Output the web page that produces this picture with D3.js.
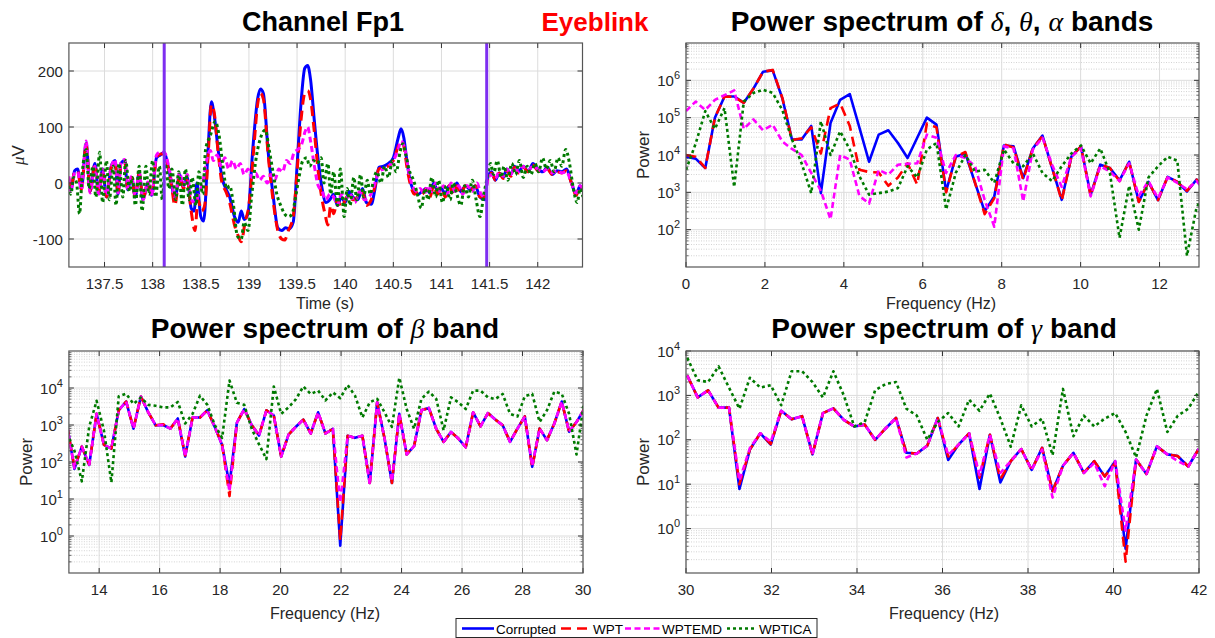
<!DOCTYPE html>
<html>
<head>
<meta charset="utf-8">
<script src="https://cdn.jsdelivr.net/npm/d3@7"></script>
<style>
body{margin:0;background:#fff}
svg{font-family:"Liberation Sans",Arial,sans-serif}
</style>
</head>
<body>
<svg id="chart" width="1215" height="638"></svg>
<script>
// ---- data ----
// time course of channel Fp1, [time (s), amplitude (uV)] at turning points
const fp1Corrupted = [[137.13,5],[137.15,-12],[137.19,22],[137.22,25],[137.26,-10],[137.31,72],[137.35,-15],[137.40,35],[137.44,-18],[137.48,25],[137.52,-25],[137.57,30],[137.61,40],[137.64,-20],[137.67,35],[137.71,40],[137.74,-12],[137.78,10],[137.82,-25],[137.86,18],[137.90,-30],[137.95,0],[137.99,-22],[138.04,45],[138.08,50],[138.12,55],[138.16,30],[138.20,-5],[138.23,-30],[138.28,15],[138.32,-5],[138.36,10],[138.40,-45],[138.43,-50],[138.46,0],[138.50,-60],[138.53,-68],[138.57,40],[138.61,145],[138.64,120],[138.68,60],[138.72,10],[138.76,-10],[138.80,-25],[138.85,-60],[138.89,-70],[138.92,-50],[138.95,-65],[138.99,-55],[139.04,60],[139.09,150],[139.12,168],[139.15,160],[139.20,55],[139.25,-20],[139.30,-80],[139.34,-85],[139.38,-80],[139.42,-82],[139.46,-70],[139.50,30],[139.54,140],[139.58,205],[139.61,210],[139.64,185],[139.68,110],[139.72,40],[139.76,-10],[139.80,-35],[139.84,-30],[139.88,-20],[139.92,-40],[139.96,-25],[140.00,-35],[140.04,-15],[140.08,-25],[140.13,-30],[140.18,-10],[140.22,-35],[140.27,-38],[140.31,-10],[140.35,28],[140.40,30],[140.45,35],[140.50,45],[140.55,80],[140.58,97],[140.61,80],[140.64,40],[140.68,0],[140.72,-15],[140.76,-20],[140.80,-15],[140.84,-10],[140.88,-18],[140.92,0],[140.96,-15],[141.00,-10],[141.04,-20],[141.08,-5],[141.12,-15],[141.16,0],[141.20,-15],[141.25,-5],[141.30,-12],[141.35,-5],[141.40,-25],[141.45,-30],[141.48,10],[141.52,20],[141.56,5],[141.60,18],[141.64,10],[141.68,25],[141.72,15],[141.76,30],[141.80,20],[141.85,30],[141.90,20],[141.95,35],[142.00,25],[142.05,20],[142.10,28],[142.15,15],[142.20,22],[142.25,20],[142.30,25],[142.35,0],[142.40,-20],[142.44,-5],[142.47,-15]];
const fp1WPT = [[137.13,8],[137.15,-10],[137.19,20],[137.22,22],[137.26,-12],[137.31,70],[137.35,-15],[137.40,33],[137.44,-15],[137.48,22],[137.52,-25],[137.57,28],[137.61,38],[137.64,-20],[137.67,33],[137.71,38],[137.74,-10],[137.78,10],[137.82,-25],[137.86,18],[137.90,-28],[137.95,0],[137.99,-20],[138.04,45],[138.08,52],[138.12,52],[138.16,28],[138.20,-10],[138.23,-40],[138.28,12],[138.32,-10],[138.36,5],[138.40,-50],[138.44,-85],[138.47,-30],[138.51,-50],[138.54,-40],[138.58,60],[138.61,140],[138.64,125],[138.68,55],[138.72,0],[138.76,-15],[138.80,-35],[138.85,-75],[138.89,-95],[138.92,-105],[138.96,-70],[139.00,-40],[139.05,60],[139.09,140],[139.12,160],[139.15,150],[139.20,50],[139.25,-30],[139.30,-85],[139.34,-100],[139.37,-102],[139.41,-85],[139.46,-60],[139.50,20],[139.54,110],[139.58,160],[139.61,165],[139.64,150],[139.68,90],[139.72,20],[139.76,-30],[139.79,-55],[139.82,-75],[139.85,-40],[139.88,-55],[139.92,-30],[139.96,-45],[140.00,-30],[140.04,-20],[140.08,-30],[140.13,-25],[140.18,-15],[140.22,-40],[140.27,-30],[140.31,-5],[140.35,25],[140.40,28],[140.45,30],[140.50,40],[140.55,65],[140.58,75],[140.61,65],[140.64,30],[140.68,-5],[140.72,-20],[140.76,-15],[140.80,-20],[140.84,-10],[140.88,-25],[140.92,-5],[140.96,-20],[141.00,-10],[141.04,-25],[141.08,-5],[141.12,-20],[141.16,-5],[141.20,-20],[141.25,-5],[141.30,-15],[141.35,-5],[141.40,-25],[141.45,-25],[141.48,10],[141.52,18],[141.56,5],[141.60,18],[141.64,8],[141.68,22],[141.72,12],[141.76,28],[141.80,18],[141.85,28],[141.90,20],[141.95,32],[142.00,22],[142.05,20],[142.10,25],[142.15,15],[142.20,20],[142.25,18],[142.30,22],[142.35,0],[142.40,-22],[142.44,-5],[142.47,-12]];
const fp1WPTEMD = [[137.13,12],[137.15,-15],[137.19,18],[137.22,20],[137.26,-12],[137.31,75],[137.35,-18],[137.40,30],[137.44,-20],[137.48,25],[137.52,-22],[137.57,28],[137.61,42],[137.64,-18],[137.67,35],[137.71,42],[137.74,-10],[137.78,12],[137.82,-22],[137.86,20],[137.90,-30],[137.95,2],[137.99,-25],[138.04,50],[138.08,55],[138.12,55],[138.16,35],[138.20,0],[138.23,-25],[138.28,18],[138.32,-5],[138.36,15],[138.40,-30],[138.44,-35],[138.48,-20],[138.52,0],[138.56,40],[138.60,58],[138.63,40],[138.67,50],[138.71,30],[138.75,45],[138.79,25],[138.83,40],[138.87,25],[138.91,35],[138.95,15],[138.99,25],[139.03,10],[139.07,18],[139.11,5],[139.15,12],[139.19,0],[139.23,15],[139.27,5],[139.31,25],[139.35,20],[139.39,40],[139.43,35],[139.47,55],[139.51,60],[139.55,70],[139.58,90],[139.61,100],[139.64,75],[139.68,30],[139.72,-5],[139.76,-15],[139.80,-30],[139.84,-20],[139.88,-25],[139.92,-40],[139.96,-20],[140.00,-30],[140.05,-20],[140.10,-35],[140.15,-15],[140.20,-30],[140.25,-25],[140.30,-5],[140.35,20],[140.40,25],[140.45,30],[140.50,40],[140.55,60],[140.58,75],[140.62,60],[140.66,20],[140.70,-5],[140.74,-15],[140.78,-10],[140.82,-20],[140.86,-5],[140.90,-15],[140.94,0],[140.98,-15],[141.02,-5],[141.06,-20],[141.10,0],[141.14,-15],[141.18,-5],[141.22,-20],[141.27,-5],[141.32,-15],[141.37,0],[141.41,-20],[141.45,-25],[141.48,5],[141.52,15],[141.56,8],[141.60,20],[141.64,12],[141.68,25],[141.72,15],[141.76,28],[141.80,20],[141.85,30],[141.90,22],[141.95,30],[142.00,25],[142.05,20],[142.10,25],[142.15,18],[142.20,22],[142.25,18],[142.30,20],[142.35,0],[142.40,-18],[142.44,-5],[142.47,-10]];
const fp1WPTICA = [[137.13,-5],[137.15,-20],[137.18,10],[137.21,0],[137.24,-55],[137.27,20],[137.31,60],[137.34,-10],[137.38,30],[137.41,-25],[137.45,55],[137.48,-35],[137.52,40],[137.55,-30],[137.59,30],[137.62,-40],[137.65,35],[137.69,-25],[137.72,40],[137.76,-15],[137.79,10],[137.82,-40],[137.86,30],[137.89,-50],[137.93,30],[137.96,-20],[138.00,40],[138.03,-25],[138.07,30],[138.10,-30],[138.13,35],[138.17,-10],[138.20,25],[138.24,-30],[138.27,20],[138.31,-40],[138.34,25],[138.38,-30],[138.41,10],[138.45,-40],[138.48,20],[138.52,-20],[138.55,60],[138.60,85],[138.65,110],[138.69,85],[138.73,30],[138.77,-10],[138.80,-5],[138.84,-40],[138.88,-95],[138.92,-100],[138.95,-70],[138.99,-85],[139.03,-20],[139.08,50],[139.12,80],[139.17,95],[139.21,60],[139.25,20],[139.29,-20],[139.33,-40],[139.37,-55],[139.41,-60],[139.45,-55],[139.48,-30],[139.52,10],[139.56,40],[139.60,45],[139.63,30],[139.67,40],[139.71,35],[139.75,45],[139.78,0],[139.82,35],[139.85,-20],[139.88,20],[139.92,-40],[139.95,25],[139.99,-60],[140.02,-10],[140.05,-40],[140.09,10],[140.12,-30],[140.16,15],[140.19,-25],[140.23,5],[140.26,-20],[140.30,10],[140.33,20],[140.37,0],[140.41,30],[140.45,10],[140.49,40],[140.53,20],[140.57,55],[140.60,70],[140.63,50],[140.67,20],[140.71,5],[140.75,-20],[140.79,-45],[140.83,-10],[140.86,-30],[140.90,10],[140.94,-25],[140.97,5],[141.01,-35],[141.05,-5],[141.09,-30],[141.12,0],[141.16,-20],[141.20,-40],[141.24,-5],[141.28,-25],[141.32,5],[141.36,-30],[141.40,-60],[141.44,-20],[141.47,5],[141.51,35],[141.54,15],[141.58,40],[141.62,10],[141.65,30],[141.69,5],[141.73,35],[141.77,15],[141.81,40],[141.85,10],[141.89,30],[141.93,15],[141.97,35],[142.01,20],[142.05,45],[142.09,25],[142.13,40],[142.17,20],[142.21,45],[142.25,30],[142.29,60],[142.33,35],[142.37,-10],[142.41,-35],[142.44,-10],[142.47,-25]];
const eyeblinkMarks = [138.12, 141.47];

// power spectra, one value per FFT bin (bin width 250/1024 Hz)
const binWidth = 250 / 1024;
// delta/theta/alpha: bins 0..54
const deltaCorrupted = [9e3,8e3,4.5e3,1e5,3.7e5,3.7e5,2.5e5,6e5,1.7e6,1.85e6,3.3e5,2.6e4,2.6e4,6e4,9.5e2,7.2e4,3e5,4.3e5,5.4e4,6.6e3,3.5e4,4.6e4,2.1e4,8.3e3,2.9e4,1e5,6.5e4,1.07e3,9e3,1.1e4,1.8e3,3.1e2,7.8e2,1.8e4,1.7e4,2.4e3,1.5e4,3.3e4,4.5e3,6.3e2,9e3,1.7e4,8.5e2,5.5e3,4.5e3,2.1e3,6.6e3,5.6e2,1.9e3,6.2e2,2.6e3,1.9e3,1.05e3,2.2e3,1e3];
const deltaWPT = [1e4,9e3,4.5e3,1e5,3.7e5,3.6e5,2.5e5,6e5,1.7e6,1.9e6,3.4e5,2.5e4,2.8e4,5.5e4,1.1e4,1.8e5,2.4e5,6e4,4e3,3.5e3,3.4e3,1.5e3,2.5e3,6e3,1.6e3,7e4,5.5e4,1e3,9e3,1.2e4,1.8e3,2.6e2,7e2,1.9e4,1.6e4,2.2e3,1.5e4,3.2e4,4.5e3,6e2,9e3,1.7e4,8e2,5.5e3,4.5e3,2e3,6.6e3,5.5e2,1.9e3,6.2e2,2.6e3,1.9e3,1.1e3,2.2e3,1e3];
const deltaWPTEMD = [1.5e5,2.7e5,1.6e5,3e5,4e5,5.4e5,5e4,9e4,4.6e4,6.5e4,2.3e4,1.45e4,1e4,3.3e3,1.1e3,1.9e2,1e4,7.5e3,8e2,5e2,4e3,3e3,5.5e3,5.8e3,6e3,3.5e4,2.9e4,3.3e3,1e4,8.3e3,5e3,6.3e2,1.2e2,1.7e4,1.5e4,5.7e2,1.4e4,2.9e4,5.5e3,1.4e3,9e3,1.5e4,7.8e2,5e3,3.6e3,2e3,6e3,8e2,2e3,7e2,2.5e3,1.8e3,1.2e3,2e3,1e3];
const deltaWPTICA = [4e3,2e4,1.5e5,5e4,1.8e5,1.4e3,2.7e5,4.6e5,5.6e5,4.6e5,1.6e5,2.6e4,6e3,9.5e2,8e4,1e4,4.3e4,1.4e4,2.7e3,8.7e2,9.5e2,1.05e3,1.3e3,5e3,2.5e3,1.4e4,2.1e4,3.5e2,3.3e3,1e4,3.6e3,4e3,1.8e3,1.4e4,6e3,5e3,1.1e4,3.3e3,2e3,5e3,1.1e4,1.8e4,6e3,1.5e4,3.3e3,60,1.5e3,1e2,2.5e3,5e3,9e3,7e3,20,4e2,1e3];
// beta: bins 53..123
const betaCorrupted = [1e3,65,2.6e2,83,2e3,2.9e2,2.3e2,2.5e3,4.3e3,8e2,5.9e3,2.2e3,9.8e2,1e3,8e2,1.5e3,1.4e2,1.6e3,1.6e3,2.5e3,8.9e2,2.9e2,24,1.15e3,2.7e3,1e3,5.2e2,2.5e3,1.8e3,1.4e2,5.5e2,9e2,1.4e3,5.9e2,2.2e3,5.9e2,7.9e2,0.55,5.1e2,4.5e2,5.1e2,27,4.1e3,4.3e2,27,2e3,1.6e2,2.7e2,2.5e3,2.9e3,7.9e2,3.5e2,6.5e2,4.3e2,2.5e2,2.2e3,9.2e2,2.1e3,1.4e3,9.8e2,3.5e2,8e2,1.7e3,74,8e2,3.9e2,1.1e3,4.3e3,6.6e2,1.2e3,2.6e3];
const betaWPT = [1e3,70,2.6e2,85,2e3,2.9e2,2.3e2,2.5e3,4.3e3,8e2,5.9e3,2.2e3,9.8e2,1.05e3,8e2,1.5e3,1.5e2,1.6e3,1.6e3,2.5e3,8.9e2,3e2,12,1.15e3,2.7e3,1e3,5.2e2,2.5e3,1.8e3,1.4e2,5.5e2,9e2,1.4e3,5.9e2,2.2e3,5.9e2,7.9e2,0.75,5.1e2,4.5e2,5.1e2,27,4.1e3,4.3e2,27,2e3,1.6e2,2.7e2,2.5e3,2.9e3,7.9e2,3.5e2,6.5e2,4.3e2,2.5e2,2.2e3,9.2e2,2.1e3,1.4e3,9.8e2,3.5e2,8e2,1.7e3,70,8e2,3.9e2,1.1e3,4.3e3,6.6e2,1.2e3,2.6e3];
const betaWPTEMD = [1e3,68,2.6e2,85,2e3,2.9e2,2.3e2,2.5e3,4.3e3,8e2,5.9e3,2.2e3,9.8e2,1e3,8e2,1.5e3,1.4e2,1.6e3,1.6e3,2.5e3,8.9e2,2.9e2,16,1.15e3,2.7e3,1e3,5.2e2,2.5e3,1.8e3,1.4e2,5.5e2,9e2,1.4e3,5.9e2,2.2e3,5.9e2,7.9e2,8,5.1e2,4.5e2,5.1e2,25,4.1e3,4.3e2,30,2e3,1.6e2,2.7e2,2.5e3,2.9e3,7.9e2,3.5e2,6.5e2,4.3e2,2.5e2,2.2e3,9.2e2,2.1e3,1.4e3,9.8e2,3.5e2,8e2,1.7e3,78,8e2,3.9e2,1.1e3,4.3e3,6.6e2,1.2e3,2.6e3];
const betaWPTICA = [6e2,2e2,30,9e2,4.5e3,7e2,28,6e3,7e3,3.7e3,5.5e3,3.5e3,3.3e3,3e3,3e3,4.2e3,1.1e3,2e3,6.2e3,3.5e3,1e3,4.5e2,1.6e4,4e3,3.5e3,8e2,3e2,1.2e2,1.1e4,2e3,3e3,5e3,1.1e4,6.9e3,8.5e3,4.6e3,7.6e3,5.3e3,1.2e4,6.2e3,1.6e3,4.1e3,5.1e3,2.2e3,8.9e2,1.9e4,2.7e3,7.9e2,5.1e3,8e3,5.1e3,7.2e2,5.6e3,4.1e3,2.7e3,8.5e3,8.5e3,5.6e3,5e3,6.9e3,2e3,1.7e3,6e3,7e3,1.2e3,2.5e3,8e3,7e3,2e3,1.6e2,4e3];
// gamma: bins 123..172
const gammaCorrupted = [2.8e3,9e2,1.3e3,5.3e2,5.3e2,7.8,60,1.4e2,78,4.5e2,2.9e2,3.4e2,47,4e2,5.1e2,2.8e2,2e2,2.2e2,1e2,1.8e2,3.1e2,51,49,74,3.1e2,35,78,1.4e2,7.8,1.3e2,11,33,62,21,66,7,26,51,18,33,15,33,0.35,36,17,71,47,43,25,62];
const gammaWPT = [2.8e3,9e2,1.3e3,5.3e2,5.3e2,10,60,1.4e2,80,4.5e2,2.9e2,3.4e2,47,4e2,5.1e2,2.8e2,2e2,2.2e2,1e2,1.8e2,3.1e2,51,49,74,3.1e2,42,78,1.4e2,14,1.3e2,13,33,62,21,66,7,26,51,18,33,15,30,0.18,36,17,71,47,43,25,62];
const gammaWPTEMD = [2.8e3,9e2,1.3e3,5.3e2,5.3e2,12,65,1.4e2,90,4.5e2,2.9e2,3.4e2,47,4e2,5.1e2,2.8e2,2e2,2.2e2,1e2,1.8e2,3.1e2,40,49,74,3.1e2,45,78,1.4e2,16,1.3e2,18,33,62,21,60,5,26,51,18,30,9,33,0.9,36,17,71,47,33,25,62];
const gammaWPTICA = [7e3,2.2e3,2e3,4.5e3,1.5e3,5e2,2.5e3,1.5e3,1.7e3,6e2,3.5e3,3.5e3,2e3,9e2,3.5e3,1e3,2e2,2.5e2,1.3e3,1.8e3,2e3,5e2,3.5e2,1e2,2.5e2,4e2,2e2,8e2,4.5e2,1.1e3,3e2,70,6e2,2e2,3e2,45,1.4e3,1.2e2,3.5e2,2e2,3e2,4e2,1.5e2,40,3.5e2,1.4e3,1.5e2,3.5e2,5e2,1.2e3];

const seriesNames = ["Corrupted","WPT","WPTEMD","WPTICA"];

// ---- styles ----
const styles = {
  Corrupted: {color:"#0000ff", dash:null},
  WPT:       {color:"#ff0000", dash:"10,6"},
  WPTEMD:    {color:"#ff00ff", dash:"6,3.5"},
  WPTICA:    {color:"#007a00", dash:"3,3"}
};

const svg = d3.select("#chart");
const binsFreq = (a, b) => d3.range(a, b + 1).map(k => k * binWidth);

function makePanel(id, box, xDomain, yDomain, isLog) {
  const x = d3.scaleLinear().domain(xDomain).range([box.x0, box.x1]);
  const y = (isLog ? d3.scaleLog() : d3.scaleLinear()).domain(yDomain).range([box.y1, box.y0]);
  svg.append("clipPath").attr("id", "clip-" + id)
    .append("rect").attr("x", box.x0).attr("y", box.y0)
    .attr("width", box.x1 - box.x0).attr("height", box.y1 - box.y0);
  const g = svg.append("g");
  return {id, box, x, y, g, isLog};
}

function drawGrid(p, xTicks, yTicks) {
  const {box, x, y, g} = p;
  if (p.isLog) { // minor grid
    const [lo, hi] = y.domain();
    const minors = [];
    for (let e = Math.floor(Math.log10(lo)); e < Math.log10(hi); e++)
      for (let m = 2; m <= 9; m++) { const v = m * Math.pow(10, e); if (v > lo && v < hi) minors.push(v); }
    g.selectAll(".minor").data(minors).join("line")
      .attr("x1", box.x0).attr("x2", box.x1).attr("y1", d => y(d)).attr("y2", d => y(d))
      .attr("stroke", "#c8c8c8").attr("stroke-width", 0.8).attr("stroke-dasharray", "1,1.5");
    g.selectAll(".mtick").data(minors).join("path")
      .attr("d", d => `M${box.x0},${y(d)}h2.5M${box.x1},${y(d)}h-2.5`)
      .attr("stroke", "#444").attr("stroke-width", 0.8);
  }
  g.selectAll(".gx").data(xTicks).join("line")
    .attr("x1", d => x(d)).attr("x2", d => x(d)).attr("y1", box.y0).attr("y2", box.y1)
    .attr("stroke", "#dcdcdc").attr("stroke-width", 1);
  g.selectAll(".gy").data(yTicks).join("line")
    .attr("x1", box.x0).attr("x2", box.x1).attr("y1", d => y(d)).attr("y2", d => y(d))
    .attr("stroke", "#dcdcdc").attr("stroke-width", 1);
}

function drawFrame(p, xTicks, yTicks, xFmt) {
  const {box, x, y, g} = p;
  const t = 5;
  g.selectAll(".tx").data(xTicks).join("path")
    .attr("d", d => `M${x(d)},${box.y1}v${-t}M${x(d)},${box.y0}v${t}`)
    .attr("stroke", "#333").attr("stroke-width", 1);
  g.selectAll(".ty").data(yTicks).join("path")
    .attr("d", d => `M${box.x0},${y(d)}h${t}M${box.x1},${y(d)}h${-t}`)
    .attr("stroke", "#333").attr("stroke-width", 1);
  g.append("rect").attr("x", box.x0).attr("y", box.y0)
    .attr("width", box.x1 - box.x0).attr("height", box.y1 - box.y0)
    .attr("fill", "none").attr("stroke", "#555").attr("stroke-width", 1.2);
  g.selectAll(".lx").data(xTicks).join("text")
    .attr("x", d => x(d)).attr("y", box.y1 + 22).attr("text-anchor", "middle")
    .attr("font-size", 15).attr("fill", "#262626").text(xFmt);
  const ly = g.selectAll(".ly").data(yTicks).join("text")
    .attr("x", box.x0 - 6).attr("y", d => y(d) + 5.5).attr("text-anchor", "end")
    .attr("font-size", 15).attr("fill", "#262626");
  if (p.isLog) {
    ly.each(function(d) {
      const s = d3.select(this);
      s.append("tspan").text("10");
      s.append("tspan").attr("dy", -7).attr("font-size", 11).text(Math.round(Math.log10(d)));
    });
  } else ly.text(d => d);
}

function drawSeries(p, rows, width, curve) {
  const line = d3.line().x(d => p.x(d[0])).y(d => p.y(d[1])).curve(curve || d3.curveLinear);
  const lg = p.g.append("g").attr("clip-path", `url(#clip-${p.id})`);
  rows.forEach(r => {
    lg.append("path").datum(r.data).attr("d", line)
      .attr("fill", "none").attr("stroke", styles[r.name].color)
      .attr("stroke-width", width).attr("stroke-dasharray", styles[r.name].dash)
      .attr("stroke-linejoin", "round");
  });
  return lg;
}

function title(txt, cx, y, size) {
  const t = svg.append("text").attr("x", cx).attr("y", y).attr("text-anchor", "middle")
    .attr("font-size", size || 27).attr("font-weight", "bold").attr("fill", "#000");
  txt.forEach(part => {
    const s = t.append("tspan").text(part.t);
    if (part.greek) s.attr("font-family", "'Liberation Serif',serif").attr("font-style", "italic").attr("font-weight", "normal");
  });
}

function axisLabel(txt, x, y, rotate, size) {
  const t = svg.append("text").attr("font-size", size || 16).attr("fill", "#262626").attr("text-anchor", "middle");
  if (rotate) t.attr("transform", `translate(${x},${y}) rotate(-90)`);
  else t.attr("x", x).attr("y", y);
  txt.forEach(part => {
    const s = t.append("tspan").text(part.t);
    if (part.greek) s.attr("font-family", "'Liberation Serif',serif").attr("font-style", "italic");
  });
}

const zip = (f, v) => f.map((d, i) => [d, v[i]]);

// ---- panel 1: channel Fp1 ----
const p1 = makePanel("p1", {x0:68.9, x1:582.5, y0:43, y1:267}, [137.13, 142.465], [-150, 250], false);
const p1x = d3.range(137.5, 142.01, 0.5), p1y = [-100, 0, 100, 200];
drawGrid(p1, p1x, p1y);
drawSeries(p1, [
  {name:"Corrupted", data:fp1Corrupted},
  {name:"WPT", data:fp1WPT},
  {name:"WPTEMD", data:fp1WPTEMD},
  {name:"WPTICA", data:fp1WPTICA}
], 3, d3.curveMonotoneX);
p1.g.append("g").attr("clip-path", "url(#clip-p1)").selectAll("line").data(eyeblinkMarks).join("line")
  .attr("x1", d => p1.x(d)).attr("x2", d => p1.x(d)).attr("y1", p1.box.y0).attr("y2", p1.box.y1)
  .attr("stroke", "#7e2ef0").attr("stroke-width", 3);
drawFrame(p1, p1x, p1y, d => d3.format("")(d));

// ---- panel 2: delta/theta/alpha ----
const p2 = makePanel("p2", {x0:686, x1:1199, y0:43, y1:267}, [0, 13], [10, 1e7], true);
const f2 = binsFreq(0, 54);
const p2x = d3.range(0, 13, 2), p2y = [1e2, 1e3, 1e4, 1e5, 1e6];
drawGrid(p2, p2x, p2y);
drawSeries(p2, [
  {name:"Corrupted", data:zip(f2, deltaCorrupted)},
  {name:"WPT", data:zip(f2, deltaWPT)},
  {name:"WPTEMD", data:zip(f2, deltaWPTEMD)},
  {name:"WPTICA", data:zip(f2, deltaWPTICA)}
], 2.6);
drawFrame(p2, p2x, p2y, d => d);

// ---- panel 3: beta ----
const p3 = makePanel("p3", {x0:68.9, x1:583, y0:351, y1:573}, [13, 30], [0.1, 1e5], true);
const f3 = binsFreq(53, 123);
const p3x = d3.range(14, 31, 2), p3y = [1e0, 1e1, 1e2, 1e3, 1e4];
drawGrid(p3, p3x, p3y);
drawSeries(p3, [
  {name:"Corrupted", data:zip(f3, betaCorrupted)},
  {name:"WPT", data:zip(f3, betaWPT)},
  {name:"WPTEMD", data:zip(f3, betaWPTEMD)},
  {name:"WPTICA", data:zip(f3, betaWPTICA)}
], 2.6);
drawFrame(p3, p3x, p3y, d => d);

// ---- panel 4: gamma ----
const p4 = makePanel("p4", {x0:686, x1:1199, y0:351, y1:573}, [30, 42], [0.1, 1e4], true);
const f4 = binsFreq(123, 172);
const p4x = d3.range(30, 43, 2), p4y = [1e0, 1e1, 1e2, 1e3, 1e4];
drawGrid(p4, p4x, p4y);
drawSeries(p4, [
  {name:"Corrupted", data:zip(f4, gammaCorrupted)},
  {name:"WPT", data:zip(f4, gammaWPT)},
  {name:"WPTEMD", data:zip(f4, gammaWPTEMD)},
  {name:"WPTICA", data:zip(f4, gammaWPTICA)}
], 2.6);
drawFrame(p4, p4x, p4y, d => d);

// ---- titles and labels ----
title([{t:"Channel Fp1"}], 323, 31, 27);
svg.append("text").attr("x", 595).attr("y", 31).attr("text-anchor", "middle")
  .attr("font-size", 26).attr("font-weight", "bold").attr("fill", "#ff0000").text("Eyeblink");
title([{t:"Power spectrum of "},{t:"δ",greek:true},{t:", "},{t:"θ",greek:true},{t:", "},{t:"α",greek:true},{t:" bands"}], 942, 31, 28);
title([{t:"Power spectrum of "},{t:"β",greek:true},{t:" band"}], 325, 338, 28);
title([{t:"Power spectrum of "},{t:"γ",greek:true},{t:" band"}], 944, 338, 28);

axisLabel([{t:"Time (s)"}], 325, 309);
axisLabel([{t:"Frequency (Hz)"}], 941, 309);
axisLabel([{t:"Frequency (Hz)"}], 325, 619);
axisLabel([{t:"Frequency (Hz)"}], 944, 619);
axisLabel([{t:"μ",greek:true},{t:"V"}], 24, 155, true, 17);
axisLabel([{t:"Power"}], 649, 155, true, 17);
axisLabel([{t:"Power"}], 32, 462, true, 17);
axisLabel([{t:"Power"}], 649, 462, true, 17);

// ---- legend ----
const leg = svg.append("g");
leg.append("rect").attr("x", 456).attr("y", 618.5).attr("width", 361).attr("height", 19)
  .attr("fill", "#fff").attr("stroke", "#262626").attr("stroke-width", 1);
const legItems = [
  {name:"Corrupted", x1:462, x2:494, tx:496},
  {name:"WPT", x1:561, x2:591, tx:593},
  {name:"WPTEMD", x1:625, x2:660, tx:662},
  {name:"WPTICA", x1:727, x2:757, tx:759}
];
legItems.forEach(it => {
  leg.append("line").attr("x1", it.x1).attr("x2", it.x2).attr("y1", 628.5).attr("y2", 628.5)
    .attr("stroke", styles[it.name].color).attr("stroke-width", 2.6)
    .attr("stroke-dasharray", styles[it.name].dash);
  leg.append("text").attr("x", it.tx).attr("y", 633.5).attr("font-size", 13.5)
    .attr("fill", "#000").text(it.name);
});
</script>
</body>
</html>
